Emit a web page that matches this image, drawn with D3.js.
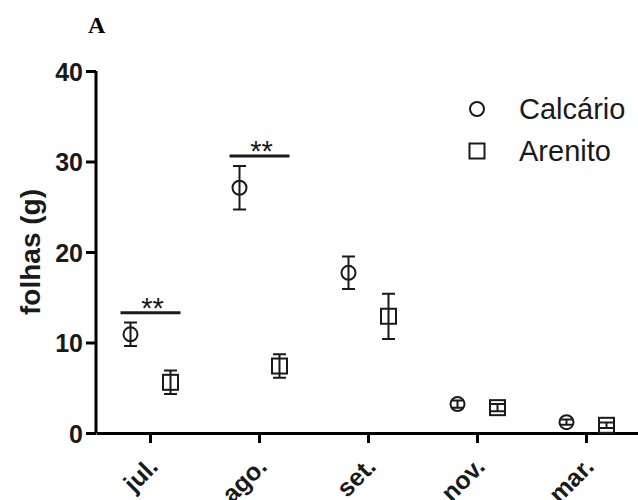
<!DOCTYPE html>
<html>
<head>
<meta charset="utf-8">
<script src="https://d3js.org/d3.v7.min.js"></script>
<style>
  body { margin: 0; background: #fff; }
  svg { display: block; }
  text { font-family: "Liberation Sans", Arial, sans-serif; }
</style>
</head>
<body>
<script>
// Months on the x axis
var months = ["jul.", "ago.", "set.", "nov.", "mar."];
// Calcário: means and errors
var calcarioMean = [10.9, 27.1, 17.7, 3.2, 1.2];
var calcarioErr = [1.3, 2.4, 1.8, 0.4, 0.3];
// Arenito: means and errors
var arenitoMean = [5.6, 7.4, 12.9, 2.8, 0.85];
var arenitoErr = [1.3, 1.3, 2.5, 0.4, 0.3];
// y ticks
var yTicks = [0, 10, 20, 30, 40];
// significance marks: month and height of the bar
var sigMonths = ["jul.", "ago."];
var sigLevel = [13.3, 30.6];

var W = 638, H = 500;
var svg = d3.select("body").append("svg")
    .attr("width", W)
    .attr("height", H);

var x = d3.scaleBand().domain(months).range([96, 641]);
var y = d3.scaleLinear().domain([0, 40]).range([433, 71]);
var off = 20;
var ink = "#1a1a1a";

// Panel letter
svg.append("text")
    .attr("x", 88).attr("y", 33)
    .style("font-family", "'Liberation Serif', 'Times New Roman', serif")
    .style("font-weight", "bold")
    .style("font-size", "24px")
    .text("A");

// Y axis
var yAxis = svg.append("g")
    .attr("transform", "translate(96,0)")
    .call(d3.axisLeft(y).tickValues(yTicks).tickSize(10).tickPadding(3));
yAxis.select(".domain").attr("stroke-width", 3).attr("d", "M0," + y(40) + "V" + y(0));
yAxis.selectAll(".tick line").attr("stroke-width", 3);
yAxis.selectAll(".tick text")
    .style("font-size", "25px")
    .style("font-weight", "bold")
    .attr("fill", ink)
    .attr("dy", "0.36em");

// X axis (labels run off the bottom edge, as in the original)
var xAxis = svg.append("g")
    .attr("transform", "translate(0,433)")
    .call(d3.axisBottom(x).tickSize(10).tickSizeOuter(0));
xAxis.select(".domain").attr("stroke-width", 3);
xAxis.selectAll(".tick line").attr("stroke-width", 3);
xAxis.selectAll(".tick text")
    .style("font-size", "25px")
    .style("font-weight", "bold")
    .attr("fill", ink)
    .attr("text-anchor", "end")
    .attr("dy", null)
    .attr("y", 0)
    .attr("transform", "translate(9,35) rotate(-45)");

// Y label
svg.append("text")
    .attr("transform", "translate(40,252) rotate(-90)")
    .attr("text-anchor", "middle")
    .style("font-size", "28px")
    .style("font-weight", "bold")
    .attr("fill", ink)
    .text("folhas (g)");

function cx(m, side) { return x(m) + x.bandwidth() / 2 + side * off; }

function drawSeries(means, errs, side, shape) {
    var g = svg.append("g");
    var d = months.map(function(m, i) { return { m: m, v: means[i], e: errs[i] }; });
    var cap = 6.5;
    g.selectAll("path.err").data(d).enter().append("path")
        .attr("class", "err")
        .attr("fill", "none")
        .attr("stroke", ink)
        .attr("stroke-width", 2)
        .attr("d", function(p) {
            var px = cx(p.m, side), t = y(p.v + p.e), b = y(p.v - p.e);
            return "M" + (px - cap) + "," + t + "H" + (px + cap) +
                "M" + px + "," + t + "V" + b +
                "M" + (px - cap) + "," + b + "H" + (px + cap);
        });
    if (shape === "circle") {
        g.selectAll("circle").data(d).enter().append("circle")
            .attr("cx", function(p) { return cx(p.m, side); })
            .attr("cy", function(p) { return y(p.v); })
            .attr("r", 7)
            .attr("fill", "none")
            .attr("stroke", ink)
            .attr("stroke-width", 2);
    } else {
        g.selectAll("rect").data(d).enter().append("rect")
            .attr("x", function(p) { return cx(p.m, side) - 7.5; })
            .attr("y", function(p) { return y(p.v) - 7.5; })
            .attr("width", 15).attr("height", 15)
            .attr("fill", "none")
            .attr("stroke", ink)
            .attr("stroke-width", 2);
    }
}

drawSeries(calcarioMean, calcarioErr, -1, "circle");
drawSeries(arenitoMean, arenitoErr, 1, "square");

// Significance bars
sigMonths.forEach(function(m, i) {
    var c = x(m) + x.bandwidth() / 2;
    svg.append("line")
        .attr("x1", c - 30).attr("x2", c + 30)
        .attr("y1", y(sigLevel[i])).attr("y2", y(sigLevel[i]))
        .attr("stroke", ink).attr("stroke-width", 3);
    svg.append("text")
        .attr("x", c + 2).attr("y", y(sigLevel[i]) + 5)
        .attr("text-anchor", "middle")
        .style("font-size", "29px")
        .attr("fill", ink)
        .text("**");
});

// Legend
var legendNames = ["Calcário", "Arenito"];
var lg = svg.append("g");
legendNames.forEach(function(name, i) {
    var ly = 109 + i * 42;
    if (i === 0) {
        lg.append("circle").attr("cx", 477).attr("cy", ly).attr("r", 7)
            .attr("fill", "none").attr("stroke", ink).attr("stroke-width", 2);
    } else {
        lg.append("rect").attr("x", 469.5).attr("y", ly - 7.5)
            .attr("width", 15).attr("height", 15)
            .attr("fill", "none").attr("stroke", ink).attr("stroke-width", 2);
    }
    lg.append("text")
        .attr("x", 519).attr("y", ly + 10)
        .style("font-size", "29px")
        .attr("fill", ink)
        .text(name);
});
</script>
</body>
</html>
